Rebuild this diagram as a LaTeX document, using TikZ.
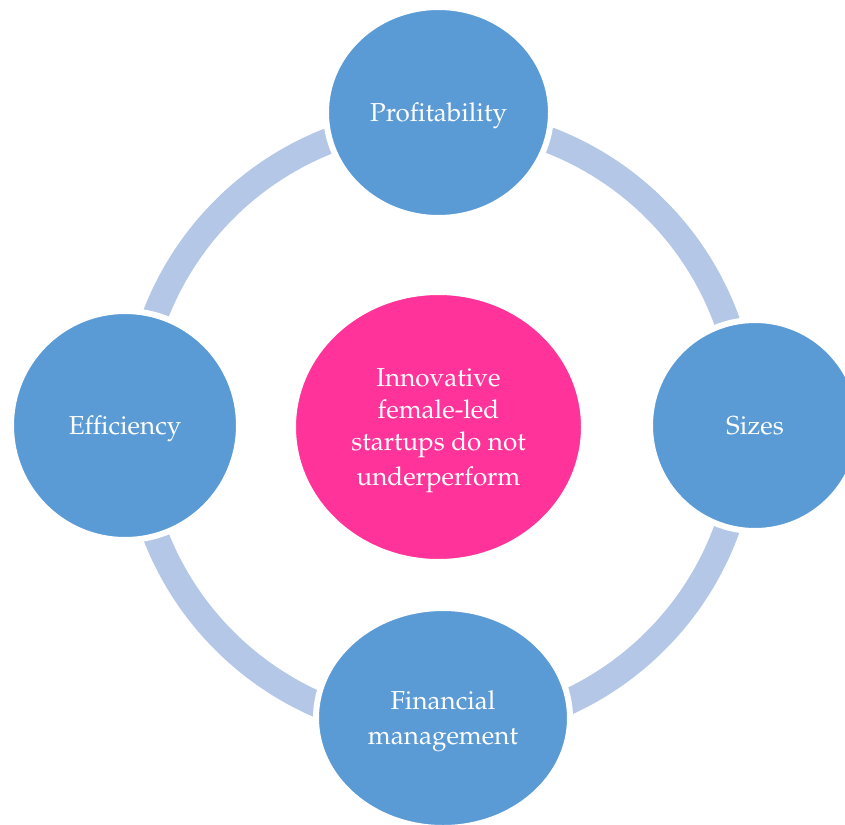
\documentclass[tikz,border=0pt]{standalone}
\usepackage[T1]{fontenc}
\renewcommand{\rmdefault}{ppl}
\usetikzlibrary{shapes.geometric}
\definecolor{ringblue}{RGB}{180,199,231}
\definecolor{nodeblue}{RGB}{91,155,213}
\definecolor{hotpink}{RGB}{255,51,153}
\newcommand{\tstrut}{\rule[-8.2pt]{0pt}{34.2pt}}
\tikzset{
  bubble/.style={ellipse, fill=nodeblue, draw=white, line width=6pt, inner sep=0pt,
    text=white, align=center, font=\fontsize{26}{32}\selectfont},
  hub/.style={bubble, fill=hotpink},
  ringline/.style={draw=ringblue, line width=26pt}
}
\begin{document}
\begin{tikzpicture}[x=1pt,y=-1pt]
\useasboundingbox (0,0) rectangle (845,824);
\coordinate (ringc) at (440,425);
\draw[ringline] (ringc) circle[radius=305];
\node[bubble, minimum width=225pt, minimum height=211pt] (prof) at (438.5,112.5) {\tstrut Profitability};
\node[bubble, minimum width=228pt, minimum height=229pt] (eff) at (125,425.5) {\tstrut Efficiency};
\node[bubble, minimum width=210pt, minimum height=211pt] (size) at (755,425.5) {\tstrut Sizes};
\node[bubble, minimum width=254pt, minimum height=220pt] (fin) at (443,718) {\tstrut Financial\\management\tstrut};
\node[hub, minimum width=291pt, minimum height=270pt] (hub) at (438.5,427) {\tstrut Innovative\\female-led\\startups do not\\underperform\tstrut};
\end{tikzpicture}
\end{document}
